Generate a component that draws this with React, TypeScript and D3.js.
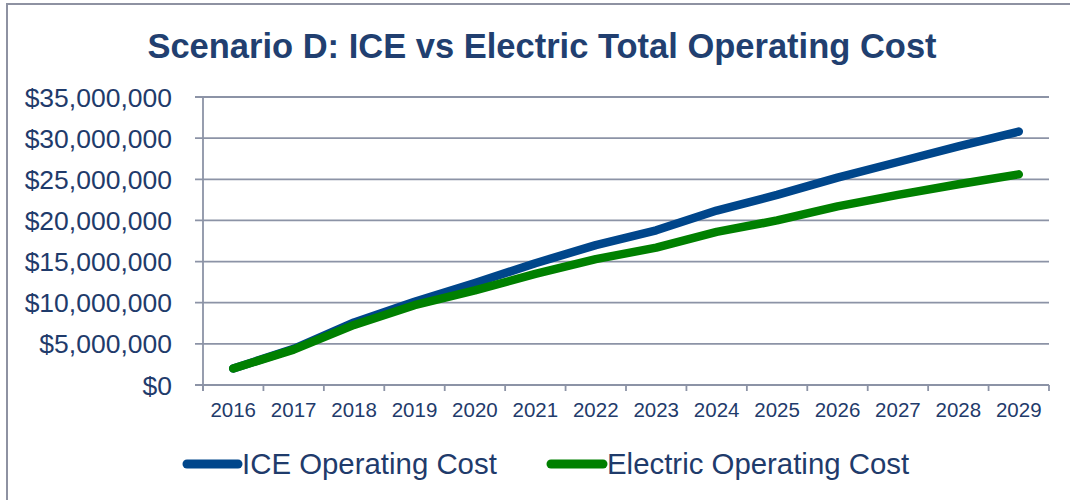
import React from "react";
import * as d3 from "d3";

const years = ["2016","2017","2018","2019","2020","2021","2022","2023","2024","2025","2026","2027","2028","2029"];
const iceCost = [2.0, 4.4, 7.6, 10.1, 12.4, 14.8, 17.0, 18.8, 21.2, 23.1, 25.2, 27.1, 29.0, 30.8].map(v => v * 1e6);
const electricCost = [2.0, 4.3, 7.3, 9.7, 11.5, 13.5, 15.3, 16.7, 18.6, 20.0, 21.7, 23.1, 24.4, 25.6].map(v => v * 1e6);
const yTicks = [0, 5e6, 10e6, 15e6, 20e6, 25e6, 30e6, 35e6];
const seriesNames = ["ICE Operating Cost", "Electric Operating Cost"];

const W = 1070, H = 500;
const left = 203, right = 1049, top = 97, bottom = 385;
const font = "'Liberation Sans', Arial, sans-serif";
const textColor = "#1F3B6B";
const gridColor = "#8C93A6";
const blue = "#00468B";
const green = "#008000";

export default function App() {
  const x = d3.scaleBand<string>().domain(years).range([left, right]);
  const y = d3.scaleLinear().domain([0, 35e6]).range([bottom, top]);
  const fmt = (v: number) => "$" + d3.format(",")(v);
  const line = d3.line<number>()
    .x((_, i) => (x(years[i]) as number) + x.bandwidth() / 2)
    .y(d => y(d));
  const boundaries = years.map(yr => x(yr) as number).concat([right]);

  return (
    <svg width={W} height={H} style={{ position: "absolute", left: 0, top: 0 }} fontFamily={font}>
      <rect x={0} y={0} width={W} height={H} fill="#fff" />
      <rect x={7} y={4} width={1200} height={700} fill="none" stroke="#8E92A2" strokeWidth={2} />
      <text x={542} y={58} textAnchor="middle" fontSize={34.5} fontWeight="bold" fill="#213F70">
        Scenario D: ICE vs Electric Total Operating Cost
      </text>
      {yTicks.map(t => (
        <g key={t}>
          <line x1={195} x2={right} y1={y(t)} y2={y(t)} stroke={gridColor} strokeWidth={1.8} />
          <text x={172} y={y(t)} dy="0.36em" textAnchor="end" fontSize={26.5} fill={textColor}>{fmt(t)}</text>
        </g>
      ))}
      <line x1={left} x2={left} y1={top} y2={bottom + 6} stroke={gridColor} strokeWidth={1.8} />
      {boundaries.map((b, i) => (
        <line key={i} x1={b} x2={b} y1={bottom} y2={bottom + 6} stroke={gridColor} strokeWidth={1.8} />
      ))}
      {years.map(yr => (
        <text key={yr} x={(x(yr) as number) + x.bandwidth() / 2} y={417} textAnchor="middle" fontSize={20.5} fill={textColor}>{yr}</text>
      ))}
      <path d={line(iceCost) || ""} fill="none" stroke={blue} strokeWidth={8.5} strokeLinecap="round" strokeLinejoin="round" />
      <path d={line(electricCost) || ""} fill="none" stroke={green} strokeWidth={8.5} strokeLinecap="round" strokeLinejoin="round" />
      <line x1={187} x2={238} y1={464} y2={464} stroke={blue} strokeWidth={9} strokeLinecap="round" />
      <text x={242} y={474} fontSize={29.4} fill={textColor}>{seriesNames[0]}</text>
      <line x1={551} x2={603} y1={464} y2={464} stroke={green} strokeWidth={9} strokeLinecap="round" />
      <text x={607} y={474} fontSize={29.4} fill={textColor}>{seriesNames[1]}</text>
    </svg>
  );
}
